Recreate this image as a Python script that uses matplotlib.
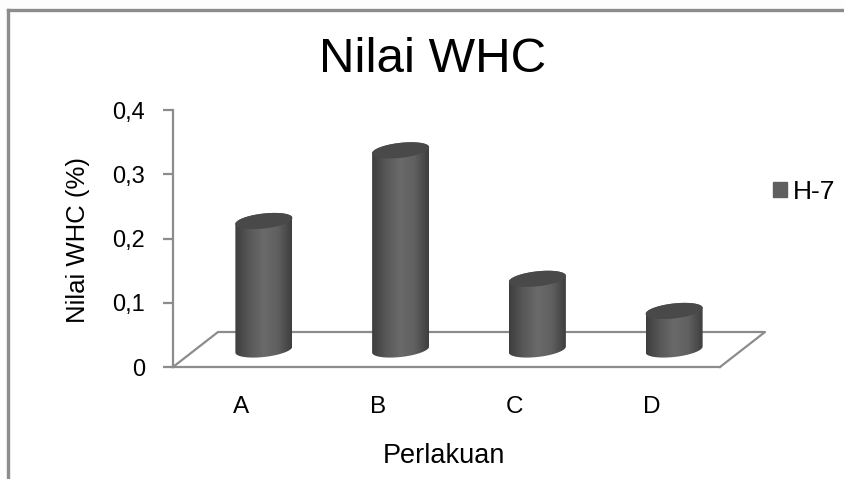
import numpy as np
import matplotlib
matplotlib.use('Agg')
import matplotlib.pyplot as plt
from matplotlib.colors import LinearSegmentedColormap
from matplotlib.patches import Patch, Polygon

# data
categories = ['A', 'B', 'C', 'D']
values = [0.2, 0.31, 0.11, 0.06]
series_name = 'H-7'
y_ticks = [0, 0.1, 0.2, 0.3, 0.4]
y_tick_labels = ['0', '0,1', '0,2', '0,3', '0,4']

W, H = 845, 479
GREY = '#8c8c8c'
plt.rcParams['font.family'] = ['Liberation Sans', 'DejaVu Sans']

fig = plt.figure(figsize=(W / 100, H / 100), dpi=100, facecolor='#fdfdfd')

# frame round the chart, runs off right and bottom
frame = fig.add_axes([8 / W, 0, 1, 1 - 10 / H], facecolor='white')
frame.set_xticks([])
frame.set_yticks([])
for s in ['right', 'bottom']:
    frame.spines[s].set_visible(False)
for s in ['left', 'top']:
    frame.spines[s].set_color(GREY)
    frame.spines[s].set_linewidth(2.4)

# front floor 173-720 px, 0 at y=367, 0,4 at y=110
ax = fig.add_axes([173 / W, (H - 367) / H, 547 / W, 257 / H], facecolor='none')
ax.set_xlim(-0.5, 3.5)
ax.set_ylim(0, 0.4)
px_x = 4 / 547
px_y = 0.4 / 257

for s in ['top', 'right']:
    ax.spines[s].set_visible(False)
for s in ['left', 'bottom']:
    ax.spines[s].set_color(GREY)
    ax.spines[s].set_linewidth(1.6)

ax.set_yticks(y_ticks)
ax.set_yticklabels(y_tick_labels, fontsize=17)
ax.set_xticks(range(len(categories)))
ax.set_xticklabels(categories, fontsize=17.5)
ax.tick_params(axis='y', length=7, width=1.6, color=GREY, pad=13)
ax.tick_params(axis='x', length=0, pad=21)

# floor in perspective
dx = 45 * px_x
dy = 35 * px_y
ax.plot([-0.5, -0.5 + dx, 3.5 + dx, 3.5], [0, dy, dy, 0], color=GREY, lw=1.6, clip_on=False, zorder=1)

cmap = LinearSegmentedColormap.from_list('cyl', ['#3e3e3e', '#585858', '#6a6a6a', '#606060', '#3e3e3e'])
grad = np.linspace(0, 1, 128).reshape(1, -1)

base = 17.5 * px_y
shift = 22.5 * px_x
a = 28.5 * px_x
b = 7.5 * px_y
k = 3 * px_y
t = np.linspace(0, 2 * np.pi, 120)

for i, v in enumerate(values):
    cx = i + shift
    low = np.linspace(np.pi, 2 * np.pi, 60)
    up = np.linspace(0, np.pi, 60)
    xs = np.concatenate([cx + a * np.cos(low), cx + a * np.cos(up)])
    ys = np.concatenate([base + b * np.sin(low) + k * np.cos(low),
                         base + v + b * np.sin(up) + k * np.cos(up)])
    body = Polygon(np.column_stack([xs, ys]), closed=True, fc='none', ec='none', zorder=3)
    ax.add_patch(body)
    im = ax.imshow(grad, extent=[cx - a, cx + a, 0, 0.4], aspect='auto', cmap=cmap, zorder=3)
    im.set_clip_path(body)
    ax.fill(cx + a * np.cos(t), base + v + b * np.sin(t) + k * np.cos(t), color='#494949', lw=0, zorder=4)

ax.set_xlim(-0.5, 3.5)
ax.set_ylim(0, 0.4)

fig.text(433 / W, 1 - 60 / H, 'Nilai WHC', fontsize=35.5, ha='center', va='center')
fig.text(78 / W, 1 - 240 / H, 'Nilai WHC (%)', fontsize=18.5, rotation=90, ha='center', va='center')
fig.text(444 / W, 1 - 456 / H, 'Perlakuan', fontsize=19.5, ha='center', va='center')

handle = Patch(color='#5f5f5f', label=series_name)
fig.legend(handles=[handle], loc='center left', bbox_to_anchor=(773 / W, 1 - 192 / H), frameon=False,
           fontsize=19, handlelength=0.52, handleheight=0.52, handletextpad=0.25, borderpad=0, borderaxespad=0)

fig.savefig('out.png', dpi=100, facecolor=fig.get_facecolor())
